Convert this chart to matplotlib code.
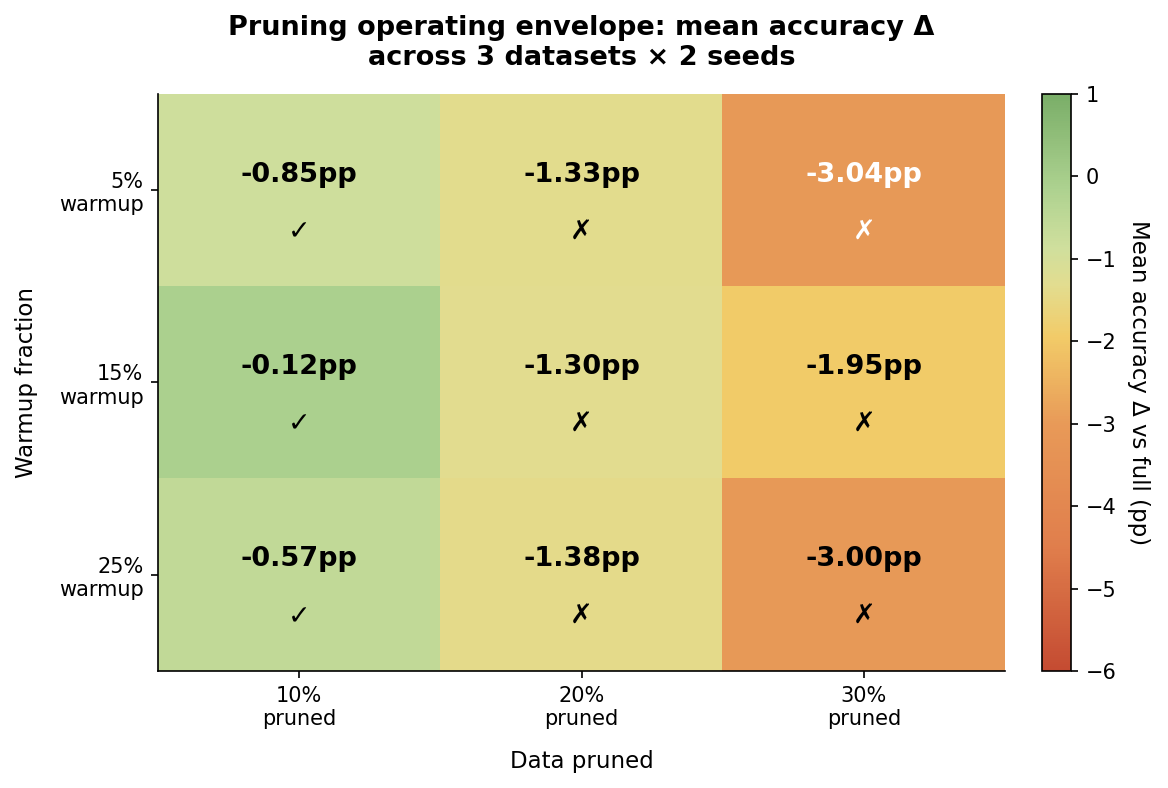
import numpy as np
import matplotlib
matplotlib.use("Agg")
import matplotlib.pyplot as plt
from matplotlib.colors import LinearSegmentedColormap, Normalize

warmup_labels = ["5%\nwarmup", "15%\nwarmup", "25%\nwarmup"]
pruned_labels = ["10%\npruned", "20%\npruned", "30%\npruned"]
values = np.array([
    [-0.85, -1.33, -3.04],
    [-0.12, -1.30, -1.95],
    [-0.57, -1.38, -3.00],
])
passed = [
    [True, False, False],
    [True, False, False],
    [True, False, False],
]
white_text = [
    [False, False, True],
    [False, False, False],
    [False, False, False],
]

vmin, vmax = -6, 1
nodes = [(-6, "#c44b32"), (-4.5, "#e07e4c"), (-3.0, "#e89a58"), (-1.95, "#f2cb68"),
         (-1.3, "#e2dd90"), (-0.85, "#cfdf9d"), (-0.57, "#c2da98"), (-0.12, "#acd18f"),
         (1.0, "#7aae68")]
cmap = LinearSegmentedColormap.from_list(
    "env", [((v - vmin) / (vmax - vmin), c) for v, c in nodes])
norm = Normalize(vmin=vmin, vmax=vmax)

fig = plt.figure(figsize=(1168 / 150, 788 / 150), dpi=150)
ax = fig.add_axes([158 / 1168, 1 - 671 / 788, (1005 - 158) / 1168, (671 - 94) / 788])
cax = fig.add_axes([1042 / 1168, 1 - 671 / 788, (1071 - 1042) / 1168, (671 - 94) / 788])

im = ax.imshow(values, cmap=cmap, norm=norm, aspect="auto")
for i in range(values.shape[0]):
    for j in range(values.shape[1]):
        col = "white" if white_text[i][j] else "black"
        ax.text(j, i - 0.08, f"{values[i, j]:.2f}pp", ha="center", va="center",
                fontsize=13, fontweight="bold", color=col)
        ax.text(j, i + 0.22, "\u2713" if passed[i][j] else "\u2717", ha="center",
                va="center", fontsize=13, color=col)

ax.set_xticks(range(3))
ax.set_xticklabels(pruned_labels, fontsize=10)
ax.set_yticks(range(3))
ax.set_yticklabels(warmup_labels, fontsize=10)
ax.set_xlabel("Data pruned", fontsize=11, labelpad=10)
ax.set_ylabel("Warmup fraction", fontsize=11, labelpad=10)
ax.spines["top"].set_visible(False)
ax.spines["right"].set_visible(False)
ax.set_title("Pruning operating envelope: mean accuracy \u0394\nacross 3 datasets \u00d7 2 seeds",
             fontsize=13, fontweight="bold", pad=14)

cb = fig.colorbar(im, cax=cax)
cb.set_label("Mean accuracy \u0394 vs full (pp)", fontsize=11, rotation=270, labelpad=16)
cb.ax.tick_params(labelsize=10)

fig.savefig("out.png", dpi=150)
